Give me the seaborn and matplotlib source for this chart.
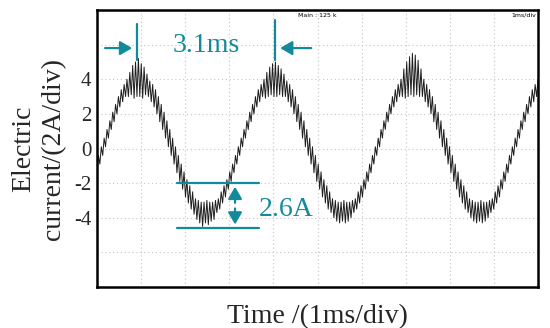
import numpy as np
import matplotlib
matplotlib.use("Agg")
import matplotlib.pyplot as plt
import seaborn as sns

# ---------------- data ----------------
# oscilloscope trace of the current in A, alternating low / high points of the ripple
current_a = [
    # 0 .. 0.9 ms, rising to the first peak
    -1.4, -0.4, -0.9, 0.1, -0.4, 0.6, 0.1, 1.1, 0.6, 1.6, 1.1, 2.1, 1.55, 2.55, 2.0, 3.0,
    2.4, 3.4, 2.7, 3.7, 3.0, 4.0, 3.0, 4.4, 3.1, 4.8, 2.9, 5.0, 3.0, 5.2,
    # falling to the first trough
    3.0, 4.9, 2.9, 4.7, 3.1, 4.3, 3.0, 3.9,
    2.7, 3.7, 2.4, 3.4, 2.0, 3.0, 1.55, 2.55, 1.1, 2.1, 0.6, 1.6, 0.1, 1.1, -0.4, 0.6,
    -0.9, 0.1, -1.4, -0.4, -1.9, -0.9, -2.35, -1.35, -2.8, -1.8, -3.15, -2.15, -3.5, -2.5,
    -3.8, -2.9, -4.1, -3.0, -4.3, -3.1, -4.5, -3.1, -4.3, -3.0,
    # rising to the second peak
    -4.4, -3.1, -4.2, -3.1, -4.1, -3.0, -3.7, -2.9,
    -3.5, -2.5, -3.15, -2.15, -2.8, -1.8, -2.35, -1.35, -1.9, -0.9, -1.4, -0.4, -0.9, 0.1,
    -0.4, 0.6, 0.1, 1.1, 0.6, 1.6, 1.1, 2.1, 1.55, 2.55, 2.0, 3.0, 2.4, 3.4, 2.7, 3.7,
    3.0, 4.0, 2.9, 4.4, 3.0, 4.7, 3.1, 4.9, 3.0, 5.0,
    # falling to the second trough
    3.0, 4.8, 3.1, 4.6, 3.0, 4.3, 3.0, 3.9,
    2.7, 3.7, 2.4, 3.4, 2.0, 3.0, 1.55, 2.55, 1.1, 2.1, 0.6, 1.6, 0.1, 1.1, -0.4, 0.6,
    -0.9, 0.1, -1.4, -0.4, -1.9, -0.9, -2.35, -1.35, -2.8, -1.8, -3.15, -2.15, -3.5, -2.5,
    -3.7, -2.9, -4.0, -3.0, -4.2, -3.1, -4.3, -3.1, -4.2, -3.0,
    # rising to the third peak
    -4.3, -3.1, -4.2, -3.1, -4.0, -3.0, -3.7, -2.9,
    -3.5, -2.5, -3.15, -2.15, -2.8, -1.8, -2.35, -1.35, -1.9, -0.9, -1.4, -0.4, -0.9, 0.1,
    -0.4, 0.6, 0.1, 1.1, 0.6, 1.6, 1.1, 2.1, 1.55, 2.55, 2.0, 3.0, 2.4, 3.4, 2.7, 3.7,
    3.0, 4.0, 3.0, 4.6, 2.9, 5.0, 3.0, 5.3, 3.1, 5.5,
    # falling to the third trough
    3.0, 5.4, 3.1, 5.1, 3.0, 4.6, 3.0, 4.0,
    2.7, 3.7, 2.4, 3.4, 2.0, 3.0, 1.55, 2.55, 1.1, 2.1, 0.6, 1.6, 0.1, 1.1, -0.4, 0.6,
    -0.9, 0.1, -1.4, -0.4, -1.9, -0.9, -2.35, -1.35, -2.8, -1.8, -3.15, -2.15, -3.5, -2.5,
    -3.7, -2.9, -4.0, -3.0, -4.2, -3.1, -4.3, -3.1, -4.2, -3.0,
    # rising towards the right edge
    -4.3, -3.1, -4.2, -3.1, -4.0, -3.0, -3.7, -2.9,
    -3.5, -2.5, -3.15, -2.15, -2.8, -1.8, -2.35, -1.35, -1.9, -0.9, -1.4, -0.4, -0.9, 0.1,
    -0.4, 0.6, 0.1, 1.1, 0.6, 1.6, 1.1, 2.1, 1.55, 2.55, 2.0, 3.0, 2.4, 3.4, 2.7, 3.7,
    3.0, 4.0,
]
time_span_ms = 10.0
x_grid_ms = list(range(0, 11))
y_grid_a = [-8, -6, -4, -2, 0, 2, 4, 6, 8]
y_tick_labels = ["", "", "-4", "-2", "0", "2", "4", "", ""]

# annotations
period_marks_ms = [0.91, 4.04]
period_label = "3.1ms"
ripple_levels_a = [-2.0, -4.6]
ripple_label = "2.6A"

time_ms = np.linspace(0, time_span_ms, len(current_a))

# ---------------- figure ----------------
sns.set_theme(style="white")
plt.rcParams["font.family"] = ["Liberation Serif", "DejaVu Serif"]

TEAL = "#138a9c"

fig = plt.figure(figsize=(5.5, 3.28), dpi=100)
ax = fig.add_axes([97 / 550, 1 - 287 / 328, (538 - 97) / 550, (287 - 10) / 328])

sns.lineplot(x=time_ms, y=current_a, ax=ax, color="#1e1e1e", lw=0.7,
             estimator=None, sort=False)

ax.set_xlim(0, time_span_ms)
ax.set_ylim(-8, 8)
ax.set_xticks(x_grid_ms)
ax.set_xticklabels([])
ax.set_yticks(y_grid_a)
ax.set_yticklabels(y_tick_labels, fontsize=15)
ax.tick_params(axis="both", length=0, pad=4)
ax.grid(True, color="#c4c4c4", linestyle=(0, (1, 2.5)), lw=0.8)
for s in ax.spines.values():
    s.set_color("black")
    s.set_linewidth(1.8)

ax.set_xlabel("Time /(1ms/div)", fontsize=20, labelpad=8)
ax.set_ylabel("Electric\ncurrent/(2A/div)", fontsize=20, va="center",
              multialignment="center", linespacing=1.25)
ax.yaxis.set_label_coords(-0.1315, 0.5)

# period annotation
ax.plot([period_marks_ms[0]] * 2, [5.1, 7.2], color=TEAL, lw=1.6)
ax.plot([period_marks_ms[1]] * 2, [5.1, 7.4], color=TEAL, lw=1.6)
arrow_kw = dict(arrowstyle="-|>,head_length=0.6,head_width=0.35", color=TEAL, lw=1.6)
ax.annotate("", xy=(period_marks_ms[0] - 0.05, 5.8), xytext=(0.12, 5.8), arrowprops=arrow_kw)
ax.annotate("", xy=(period_marks_ms[1] + 0.05, 5.8), xytext=(4.92, 5.8), arrowprops=arrow_kw)
ax.text(1.72, 5.95, period_label, color=TEAL, fontsize=20, ha="left", va="center")

# ripple annotation
for lvl in ripple_levels_a:
    ax.plot([1.81, 3.67], [lvl, lvl], color=TEAL, lw=1.6)
ax.annotate("", xy=(3.13, ripple_levels_a[0] - 0.05), xytext=(3.13, -3.3),
            arrowprops=arrow_kw)
ax.annotate("", xy=(3.13, ripple_levels_a[1] + 0.05), xytext=(3.13, -3.3),
            arrowprops=arrow_kw)
ax.text(3.66, -3.52, ripple_label, color=TEAL, fontsize=20, ha="left", va="center")

# oscilloscope screen texts
ax.text(4.55, 7.7, "Main : 125 k", fontsize=4.5, family="DejaVu Sans",
        ha="left", va="center", color="black")
ax.text(9.4, 7.7, "1ms/div", fontsize=4.5, family="DejaVu Sans",
        ha="left", va="center", color="black", clip_on=True)

fig.savefig("out.png", dpi=100)
